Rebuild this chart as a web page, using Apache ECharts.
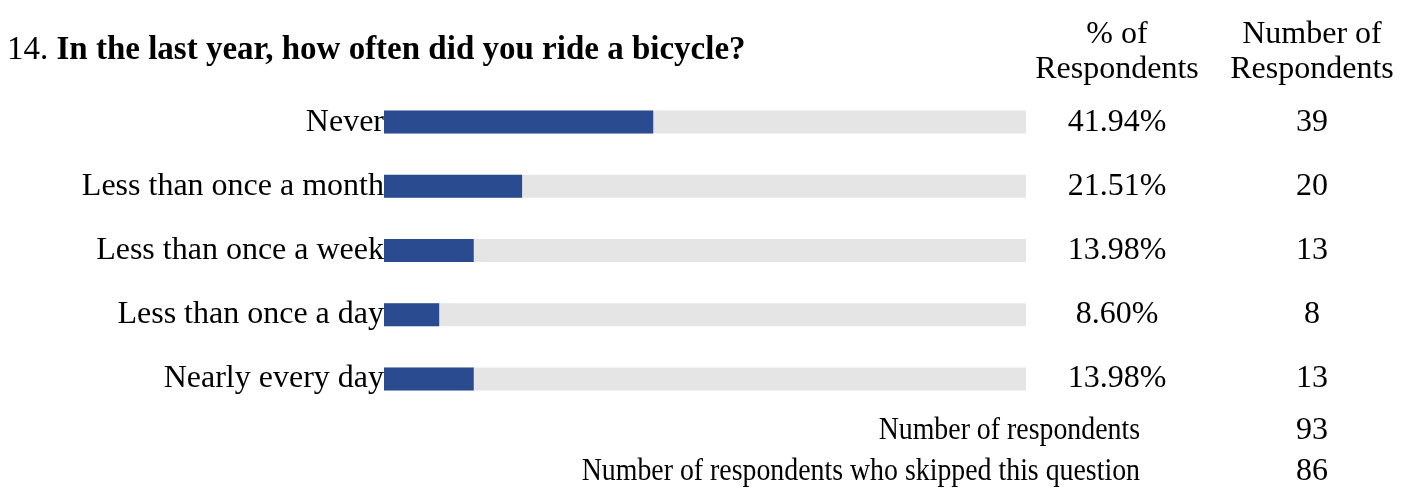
<!DOCTYPE html>
<html>
<head>
<meta charset="utf-8">
<script src="https://cdn.jsdelivr.net/npm/echarts@6/dist/echarts.min.js"></script>
<style>
  html, body { margin: 0; padding: 0; background: #fff; }
  #chart { width: 1403px; height: 495px; }
</style>
</head>
<body>
<div id="chart"></div>
<script>
// Survey question 14: bicycle riding frequency
const categories = ['Never', 'Less than once a month', 'Less than once a week', 'Less than once a day', 'Nearly every day'];
const percents = [41.94, 21.51, 13.98, 8.60, 13.98];
const counts = [39, 20, 13, 8, 13];
const totalRespondents = 93;
const skippedRespondents = 86;

const FONT = '"Liberation Serif", "Times New Roman", serif';
const FS = 32;
const TITLE_FS = 33;

const chart = echarts.init(document.getElementById('chart'), null, { renderer: 'canvas' });

const pctLabels = percents.map(v => v.toFixed(2) + '%');
const countLabels = counts.map(String);

function textEl(x, y, text, align, opts) {
  opts = opts || {};
  return {
    type: 'text', x: x, y: y, scaleX: opts.scaleX || 1,
    style: {
      text: text, fill: '#000', font: FS + 'px ' + FONT,
      textAlign: align || 'left', textVerticalAlign: 'middle'
    }
  };
}

function columnAxis(labels, offset) {
  return {
    type: 'category', data: labels, inverse: true, position: 'right', offset: offset,
    axisLine: { show: false }, axisTick: { show: false }, splitLine: { show: false },
    axisLabel: { margin: 0, align: 'center', color: '#000', fontFamily: FONT, fontSize: FS }
  };
}

chart.setOption({
  animation: false,
  grid: { left: 384, right: 377, top: 90, height: 321, containLabel: false },
  xAxis: { type: 'value', min: 0, max: 100, show: false },
  yAxis: [
    {
      type: 'category', data: categories, inverse: true,
      axisLine: { show: false }, axisTick: { show: false }, splitLine: { show: false },
      axisLabel: { margin: 0, color: '#000', fontFamily: FONT, fontSize: FS }
    },
    columnAxis(pctLabels, 91),
    columnAxis(countLabels, 286)
  ],
  series: [{
    type: 'bar',
    data: percents,
    barWidth: 23,
    itemStyle: { color: '#2a4b90' },
    showBackground: true,
    backgroundStyle: { color: '#e5e5e5' }
  }],
  graphic: [
    {
      type: 'text', x: 7, y: 50,
      style: {
        text: '{n|14. }{b|In the last year, how often did you ride a bicycle?}',
        textVerticalAlign: 'middle',
        rich: {
          n: { fontFamily: FONT, fontSize: TITLE_FS, color: '#000' },
          b: { fontFamily: FONT, fontSize: TITLE_FS, fontWeight: 'bold', color: '#000' }
        }
      }
    },
    textEl(1117, 35, '% of', 'center'),
    textEl(1117, 70, 'Respondents', 'center'),
    textEl(1312, 35, 'Number of', 'center'),
    textEl(1312, 70, 'Respondents', 'center'),
    textEl(1140, 431, 'Number of respondents', 'right', { scaleX: 0.87 }),
    textEl(1312, 431, String(totalRespondents), 'center'),
    textEl(1140, 472, 'Number of respondents who skipped this question', 'right', { scaleX: 0.87 }),
    textEl(1312, 472, String(skippedRespondents), 'center')
  ]
});
</script>
</body>
</html>
